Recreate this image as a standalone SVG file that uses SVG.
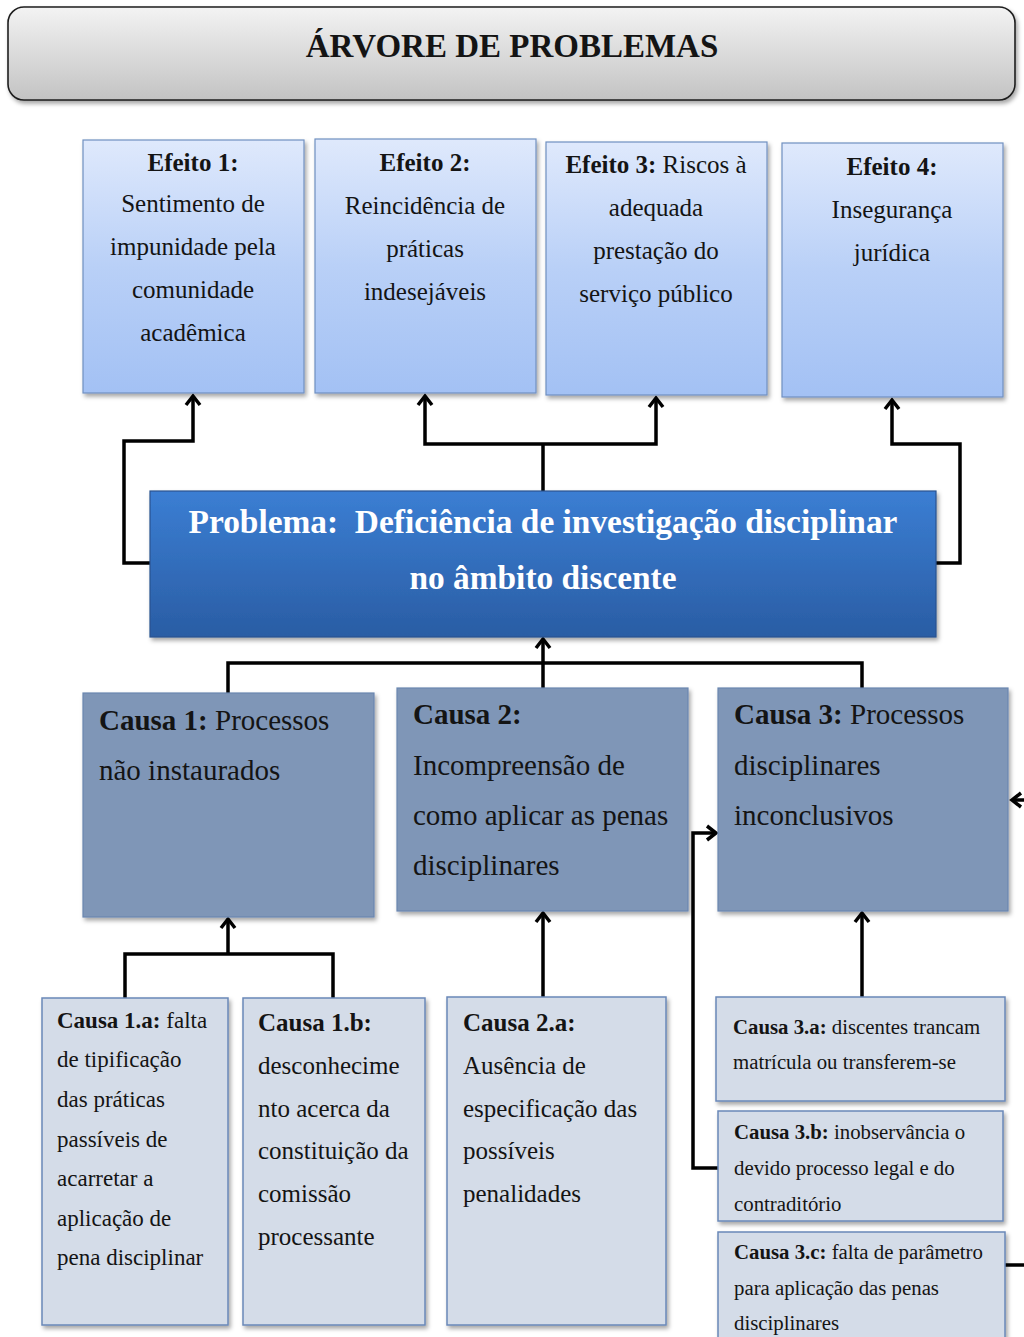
<svg xmlns="http://www.w3.org/2000/svg" width="1024" height="1337" viewBox="0 0 1024 1337">
<defs>
  <linearGradient id="gTitle" x1="0" y1="0" x2="0" y2="1">
    <stop offset="0" stop-color="#f3f3f3"/>
    <stop offset="1" stop-color="#c3c3c3"/>
  </linearGradient>
  <linearGradient id="gEff" x1="0" y1="0" x2="0" y2="1">
    <stop offset="0" stop-color="#dfe9fc"/>
    <stop offset="0.5" stop-color="#b9d0f7"/>
    <stop offset="1" stop-color="#a3c1f4"/>
  </linearGradient>
  <linearGradient id="gProb" x1="0" y1="0" x2="0" y2="1">
    <stop offset="0" stop-color="#3b7ed3"/>
    <stop offset="1" stop-color="#2a5da4"/>
  </linearGradient>
  <filter id="sh" x="-10%" y="-10%" width="125%" height="125%">
    <feDropShadow dx="2" dy="3" stdDeviation="2" flood-color="#000" flood-opacity="0.35"/>
  </filter>
  <marker id="arr" markerUnits="userSpaceOnUse" markerWidth="20" markerHeight="20" refX="0" refY="0" orient="auto" overflow="visible" viewBox="-12 -10 14 20">
    <path d="M-9,-7 L0,0 L-9,7" fill="none" stroke="#000" stroke-width="3.5" stroke-linejoin="miter" stroke-linecap="butt"/>
  </marker>
  <style>
    text, tspan { font-family: "Times New Roman", "Liberation Serif", Tinos, "DejaVu Serif", serif; }
    .t { fill: #141414; font-weight: normal; font-style: normal; }
    .b { font-weight: bold; }
    .eff { fill: url(#gEff); stroke: #7090c0; stroke-width: 1.2; filter: url(#sh); }
    .cau { fill: #7f96b7; stroke: #6a86b0; stroke-width: 1.2; filter: url(#sh); }
    .sub { fill: #d4dce8; stroke: #6a88b8; stroke-width: 1.5; filter: url(#sh); }
    .ln { fill: none; stroke: #000; stroke-width: 3.5; stroke-linejoin: miter; }
    .e { font-size: 25px; text-anchor: middle; }
    .c { font-size: 29px; }
  </style>
</defs>
<rect width="1024" height="1337" fill="#ffffff"/>

<g id="title">
  <rect x="8" y="7" width="1007" height="93" rx="16" fill="url(#gTitle)" stroke="#1e1e1e" stroke-width="1.6" filter="url(#sh)"/>
  <text class="t b" x="512" y="57" font-size="33" text-anchor="middle">ÁRVORE DE PROBLEMAS</text>
</g>

<g id="connectors">
  <path class="ln" d="M150,563 H124 V441 H193 V396" marker-end="url(#arr)"/>
  <path class="ln" d="M543,491 V444"/>
  <path class="ln" d="M543,444 H425 V396" marker-end="url(#arr)"/>
  <path class="ln" d="M543,444 H656 V398" marker-end="url(#arr)"/>
  <path class="ln" d="M936,563 H960 V444 H892 V400" marker-end="url(#arr)"/>
  <path class="ln" d="M228,693 V663 H862 V688"/>
  <path class="ln" d="M543,688 V639" marker-end="url(#arr)"/>
  <path class="ln" d="M125,998 V954 H333 V998"/>
  <path class="ln" d="M228,954 V919" marker-end="url(#arr)"/>
  <path class="ln" d="M543,997 V913" marker-end="url(#arr)"/>
  <path class="ln" d="M862,997 V913" marker-end="url(#arr)"/>
  <path class="ln" d="M718,1168 H693 V833 H716" marker-end="url(#arr)"/>
  <path class="ln" d="M1026,800 H1012" marker-end="url(#arr)"/>
  <path class="ln" d="M1005,1265 H1026"/>
</g>

<g id="efeito1">
  <rect class="eff" x="83" y="140" width="221" height="253"/>
  <text class="t e" x="193" y="171"><tspan class="b">Efeito 1:</tspan></text>
  <text class="t e" x="193" y="212">Sentimento de</text>
  <text class="t e" x="193" y="255">impunidade pela</text>
  <text class="t e" x="193" y="298">comunidade</text>
  <text class="t e" x="193" y="341">acadêmica</text>
</g>
<g id="efeito2">
  <rect class="eff" x="315" y="139" width="221" height="254"/>
  <text class="t e" x="425" y="171"><tspan class="b">Efeito 2:</tspan></text>
  <text class="t e" x="425" y="214">Reincidência de</text>
  <text class="t e" x="425" y="257">práticas</text>
  <text class="t e" x="425" y="300">indesejáveis</text>
</g>
<g id="efeito3">
  <rect class="eff" x="546" y="142" width="221" height="253"/>
  <text class="t e" x="656" y="173"><tspan class="b">Efeito 3:</tspan> Riscos à</text>
  <text class="t e" x="656" y="216">adequada</text>
  <text class="t e" x="656" y="259">prestação do</text>
  <text class="t e" x="656" y="302">serviço público</text>
</g>
<g id="efeito4">
  <rect class="eff" x="782" y="143" width="221" height="254"/>
  <text class="t e" x="892" y="175"><tspan class="b">Efeito 4:</tspan></text>
  <text class="t e" x="892" y="218">Insegurança</text>
  <text class="t e" x="892" y="261">jurídica</text>
</g>

<g id="problema">
  <rect x="150" y="491" width="786" height="146" fill="url(#gProb)" stroke="#2a538f" stroke-width="1.2" filter="url(#sh)"/>
  <text class="b" x="543" y="533" font-size="33.4" text-anchor="middle" fill="#ffffff" style="white-space:pre" xml:space="preserve">Problema:  Deficiência de investigação disciplinar</text>
  <text class="b" x="543" y="589" font-size="33.4" text-anchor="middle" fill="#ffffff">no âmbito discente</text>
</g>

<g id="causa1">
  <rect class="cau" x="83" y="693" width="291" height="224"/>
  <text class="t c" x="99" y="730"><tspan class="b">Causa 1:</tspan> Processos</text>
  <text class="t c" x="99" y="780">não instaurados</text>
</g>
<g id="causa2">
  <rect class="cau" x="397" y="688" width="291" height="223"/>
  <text class="t c" x="413" y="724"><tspan class="b">Causa 2:</tspan></text>
  <text class="t c" x="413" y="775">Incompreensão de</text>
  <text class="t c" x="413" y="825">como aplicar as penas</text>
  <text class="t c" x="413" y="875">disciplinares</text>
</g>
<g id="causa3">
  <rect class="cau" x="718" y="688" width="290" height="223"/>
  <text class="t c" x="734" y="724"><tspan class="b">Causa 3:</tspan> Processos</text>
  <text class="t c" x="734" y="775">disciplinares</text>
  <text class="t c" x="734" y="825">inconclusivos</text>
</g>

<g id="causa1a">
  <rect class="sub" x="42" y="998" width="186" height="327"/>
  <g font-size="23">
    <text class="t" x="57" y="1028"><tspan class="b">Causa 1.a:</tspan> falta</text>
    <text class="t" x="57" y="1067">de tipificação</text>
    <text class="t" x="57" y="1107">das práticas</text>
    <text class="t" x="57" y="1147">passíveis de</text>
    <text class="t" x="57" y="1186">acarretar a</text>
    <text class="t" x="57" y="1226">aplicação de</text>
    <text class="t" x="57" y="1265">pena disciplinar</text>
  </g>
</g>
<g id="causa1b">
  <rect class="sub" x="243" y="998" width="182" height="327"/>
  <g font-size="25">
    <text class="t" x="258" y="1031"><tspan class="b">Causa 1.b:</tspan></text>
    <text class="t" x="258" y="1074">desconhecime</text>
    <text class="t" x="258" y="1117">nto acerca da</text>
    <text class="t" x="258" y="1159">constituição da</text>
    <text class="t" x="258" y="1202">comissão</text>
    <text class="t" x="258" y="1245">processante</text>
  </g>
</g>
<g id="causa2a">
  <rect class="sub" x="447" y="997" width="219" height="328"/>
  <g font-size="25">
    <text class="t" x="463" y="1031"><tspan class="b">Causa 2.a:</tspan></text>
    <text class="t" x="463" y="1074">Ausência de</text>
    <text class="t" x="463" y="1117">especificação das</text>
    <text class="t" x="463" y="1159">possíveis</text>
    <text class="t" x="463" y="1202">penalidades</text>
  </g>
</g>
<g id="causa3a">
  <rect class="sub" x="716" y="997" width="289" height="104"/>
  <g font-size="20.8">
    <text class="t" x="733" y="1034"><tspan class="b">Causa 3.a:</tspan> discentes trancam</text>
    <text class="t" x="733" y="1069">matrícula ou transferem-se</text>
  </g>
</g>
<g id="causa3b">
  <rect class="sub" x="718" y="1111" width="285" height="110"/>
  <g font-size="20.8">
    <text class="t" x="734" y="1139"><tspan class="b">Causa 3.b:</tspan> inobservância o</text>
    <text class="t" x="734" y="1175">devido processo legal e do</text>
    <text class="t" x="734" y="1211">contraditório</text>
  </g>
</g>
<g id="causa3c">
  <rect class="sub" x="718" y="1232" width="287" height="120"/>
  <g font-size="20.8">
    <text class="t" x="734" y="1259"><tspan class="b">Causa 3.c:</tspan> falta de parâmetro</text>
    <text class="t" x="734" y="1295">para aplicação das penas</text>
    <text class="t" x="734" y="1330">disciplinares</text>
  </g>
</g>
</svg>
